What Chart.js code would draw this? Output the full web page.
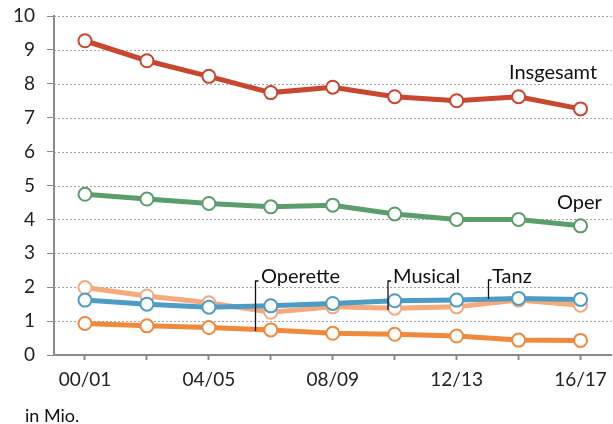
<!DOCTYPE html>
<html>
<head>
<meta charset="utf-8">
<script src="https://cdn.jsdelivr.net/npm/chart.js@4/dist/chart.umd.min.js"></script>
<style>
  html, body { margin: 0; padding: 0; background: #fff; overflow: hidden; }
  #wrap { width: 620px; height: 424px; }
</style>
</head>
<body>
<div id="wrap"><canvas id="chart"></canvas></div>
<script>
const seasons = ['00/01', '02/03', '04/05', '06/07', '08/09', '10/11', '12/13', '14/15', '16/17'];
const yTicks = [0, 1, 2, 3, 4, 5, 6, 7, 8, 9, 10];

const insgesamt = [9.27, 8.68, 8.22, 7.74, 7.90, 7.62, 7.50, 7.62, 7.26];
const oper = [4.74, 4.60, 4.47, 4.37, 4.42, 4.16, 4.00, 4.00, 3.81];
const tanz = [1.62, 1.50, 1.41, 1.45, 1.52, 1.60, 1.62, 1.67, 1.64];
const musical = [1.99, 1.74, 1.54, 1.26, 1.42, 1.38, 1.42, 1.62, 1.47];
const operette = [0.93, 0.86, 0.81, 0.74, 0.64, 0.61, 0.56, 0.44, 0.43];

const font = 'Lato, "Open Sans", sans-serif';

function series(label, data, color) {
    return {
        label: label,
        data: data,
        borderColor: color,
        borderWidth: 5,
        pointRadius: 6.5,
        pointHoverRadius: 6.5,
        pointBackgroundColor: '#fff',
        pointBorderColor: color,
        pointBorderWidth: 2,
        tension: 0,
        fill: false
    };
}

// dotted horizontal grid, drawn from the y scale's ticks
const dottedGrid = {
    id: 'dottedGrid',
    beforeDatasetsDraw(chart) {
        const c = chart.ctx;
        const y = chart.scales.y;
        const area = chart.chartArea;
        c.save();
        c.strokeStyle = '#a5a5a5';
        c.lineWidth = 1;
        c.setLineDash([2, 2]);
        y.ticks.forEach(t => {
            if (t.value === 0) return;
            const py = Math.round(y.getPixelForValue(t.value)) + 0.5;
            c.beginPath();
            c.moveTo(area.left, py);
            c.lineTo(area.right, py);
            c.stroke();
        });
        c.restore();
    }
};

// text labels and leader lines
const notes = {
    id: 'notes',
    afterDatasetsDraw(chart) {
        const c = chart.ctx;
        c.save();
        c.fillStyle = '#111';
        c.font = '20px ' + font;
        c.textBaseline = 'middle';
        c.textAlign = 'left';
        c.fillText('Insgesamt', 509, 73);
        c.fillText('Oper', 557, 203);
        c.fillText('Operette', 261, 277);
        c.fillText('Musical', 393, 277);
        c.fillText('Tanz', 492, 277);
        c.font = '18px ' + font;
        c.fillText('in Mio.', 25, 416);

        c.strokeStyle = '#111';
        c.lineWidth = 1.3;
        const leaders = [[255.5, 281, 331], [388, 281, 310], [488.5, 280, 299]];
        leaders.forEach(l => {
            c.beginPath();
            c.moveTo(l[0] + 3, l[1]);
            c.lineTo(l[0], l[1]);
            c.lineTo(l[0], l[2]);
            c.stroke();
        });
        c.restore();
    }
};

new Chart(document.getElementById('chart'), {
    type: 'line',
    data: {
        labels: seasons,
        datasets: [
            series('Insgesamt', insgesamt, '#c9472f'),
            series('Oper', oper, '#5c9e6b'),
            series('Tanz', tanz, '#4d9cc5'),
            series('Musical', musical, '#f4aa7d'),
            series('Operette', operette, '#f0893c')
        ]
    },
    options: {
        responsive: true,
        maintainAspectRatio: false,
        animation: false,
        layout: { padding: { top: 16, right: 0, bottom: 0, left: 0 } },
        plugins: {
            legend: { display: false },
            tooltip: { enabled: false }
        },
        scales: {
            x: {
                offset: true,
                afterFit: s => { s.height = 69; },
                border: { color: '#8a8a8a', width: 2 },
                grid: { drawOnChartArea: false, drawTicks: true, tickLength: 5, tickColor: '#8a8a8a', tickWidth: 2 },
                ticks: {
                    autoSkip: false,
                    maxRotation: 0,
                    padding: 8,
                    color: '#222',
                    font: { family: font, size: 19 },
                    callback: (v, i) => (i % 2 === 0 ? seasons[i] : '')
                }
            },
            y: {
                min: 0,
                max: 10,
                afterFit: s => { s.width = 54; s.paddingTop = 0; s.paddingBottom = 0; },
                afterBuildTicks: s => { s.ticks = yTicks.map(v => ({ value: v })); },
                border: { color: '#8a8a8a', width: 2 },
                grid: {
                    drawOnChartArea: false,
                    tickLength: 7,
                    tickColor: '#8a8a8a',
                    drawTicks: true
                },
                ticks: {
                    padding: 12,
                    color: '#222',
                    font: { family: font, size: 19 }
                }
            }
        }
    },
    plugins: [dottedGrid, notes]
});
</script>
</body>
</html>
